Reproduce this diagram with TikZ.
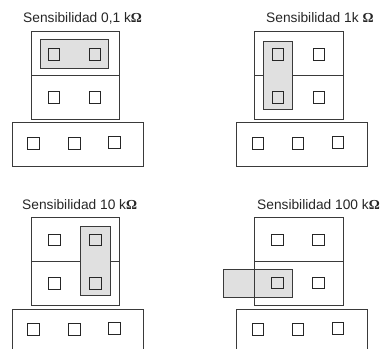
\documentclass[tikz,border=0pt]{standalone}
\usepackage{fontspec}
\setmainfont{Liberation Sans}
\newfontfamily\omfont{Liberation Serif}
\definecolor{boxline}{HTML}{3A3A3A}
\definecolor{grayfill}{HTML}{E0E0E0}
\newcommand\ohm{{\omfont\bfseries Ω}}
\begin{document}
\begin{tikzpicture}[x=1bp,y=-1bp,
  frame/.style={draw=boxline, line width=1bp},
  jumper/.style={draw=boxline, fill=grayfill, line width=1bp},
  pinsq/.style={draw=black!85, line width=1bp, minimum size=11.5bp, inner sep=0, shape=rectangle},
  title/.style={anchor=base west, inner sep=0, text=black!85, font=\fontsize{13.8}{16}\selectfont}]
\useasboundingbox (0,0) rectangle (383,349);
\clip (0,0) rectangle (383,349);
% ---------- Panel 1: 0,1 kOhm
\node[title] (t1) at (23,22) {Sensibilidad 0,1 k\ohm};
\draw[frame] (31,31) rectangle (119,119);
\draw[frame] (31,75) -- (119,75);
\draw[jumper] (40,39) rectangle (108,68);
\node[pinsq] (a1) at (54,54.5) {};
\node[pinsq] (a2) at (95,54.5) {};
\node[pinsq] (a3) at (54,97.5) {};
\node[pinsq] (a4) at (95,97.5) {};
\draw[frame] (12,122) rectangle (143,166);
\node[pinsq] (a5) at (33.5,143.5) {};
\node[pinsq] (a6) at (74.5,143.5) {};
\node[pinsq] (a7) at (114.5,142.5) {};
% ---------- Panel 2: 1k Ohm
\node[title] (t2) at (266,22) {Sensibilidad 1k \ohm};
\draw[frame] (254,31) rectangle (343,119);
\draw[frame] (254,75) -- (343,75);
\draw[jumper] (263,41) rectangle (292,109);
\node[pinsq] (b1) at (278,54.5) {};
\node[pinsq] (b2) at (319,54.5) {};
\node[pinsq] (b3) at (278,97.5) {};
\node[pinsq] (b4) at (319,97.5) {};
\draw[frame] (236,122) rectangle (367,166);
\node[pinsq] (b5) at (258,143.5) {};
\node[pinsq] (b6) at (298,143.5) {};
\node[pinsq] (b7) at (338,142.5) {};
% ---------- Panel 3: 10 kOhm
\node[title] (t3) at (22,209) {Sensibilidad 10 k\ohm};
\draw[frame] (31,217) rectangle (119,305);
\draw[frame] (31,261) -- (119,261);
\draw[jumper] (80,226) rectangle (110,295);
\node[pinsq] (c1) at (54.5,240) {};
\node[pinsq] (c2) at (95.5,240) {};
\node[pinsq] (c3) at (54.5,283.5) {};
\node[pinsq] (c4) at (95.5,283.5) {};
\draw[frame] (12,309) rectangle (143,362);
\node[pinsq] (c5) at (33.5,329.5) {};
\node[pinsq] (c6) at (74.5,329.5) {};
\node[pinsq] (c7) at (114.5,328.5) {};
% ---------- Panel 4: 100 kOhm
\node[title] (t4) at (257,209) {Sensibilidad 100 k\ohm};
\draw[jumper] (223,269) rectangle (292,297);
\draw[frame] (254,217) rectangle (343,305);
\draw[frame] (254,261) -- (343,261);
\node[pinsq] (d1) at (277.5,240) {};
\node[pinsq] (d2) at (318.5,240) {};
\node[pinsq] (d3) at (277.5,283) {};
\node[pinsq] (d4) at (318.5,283) {};
\draw[frame] (236,309) rectangle (367,362);
\node[pinsq] (d5) at (258,329.5) {};
\node[pinsq] (d6) at (298,329.5) {};
\node[pinsq] (d7) at (338,328.5) {};
\end{tikzpicture}
\end{document}
